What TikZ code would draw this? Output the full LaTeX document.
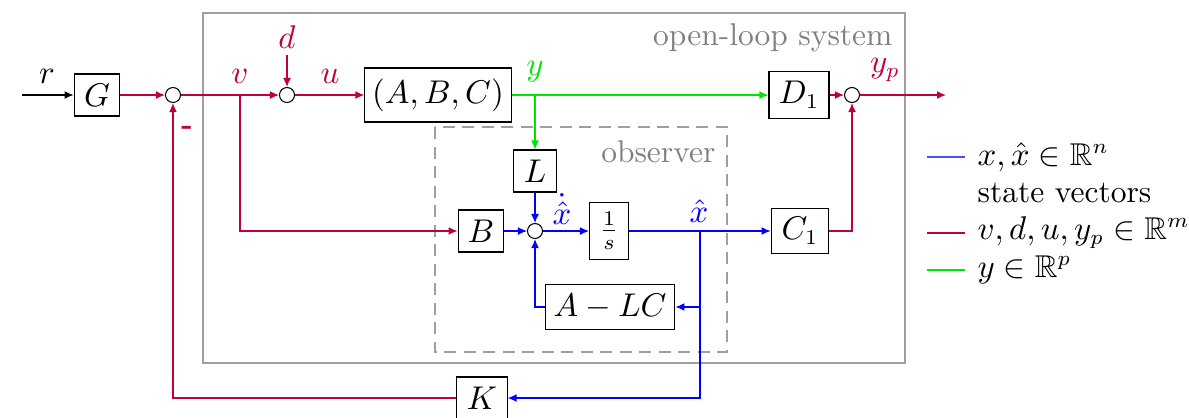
\documentclass[tikz,border=0pt]{standalone}
\usepackage{amssymb}
\usetikzlibrary{arrows.meta}
\definecolor{sig}{rgb}{0.75,0,0.25}
\definecolor{obs}{rgb}{0,0,1}
\definecolor{meas}{rgb}{0,0.9,0}
\tikzset{
  blk/.style={draw, line width=0.35pt, fill=white, inner sep=0pt},
  sumc/.style={draw, circle, line width=0.35pt, minimum size=5pt, inner sep=0pt, fill=white},
  arr/.style={line width=0.35pt, -{Latex[length=3pt,width=2.6pt]}},
  lbl/.style={inner sep=0pt},
  frame/.style={draw=gray!75, line width=0.35pt},
}
\begin{document}
\begin{tikzpicture}[x=0.3333pt,y=-0.3333pt, font=\fontsize{10.5}{12.6}\selectfont]
\useasboundingbox (0,0) rectangle (1189,417);
% frames
\draw[frame] (203,13) rectangle (905,363);
\draw[gray!75, line width=0.35pt, dash pattern=on 4pt off 2.5pt] (435,127) rectangle (727,352);
\node[lbl, anchor=east, text=gray] (olt) at (893,38) {open-loop system};
\node[lbl, anchor=east, text=gray] (obt) at (716,152) {observer};
% blocks
\node[blk, minimum width=15.3pt, minimum height=14pt] (G) at (97,95) {$G$};
\node[blk, minimum width=48.7pt, minimum height=18pt] (ABC) at (438,95) {$(A,B,C)$};
\node[blk, minimum width=20pt, minimum height=15.7pt] (D1) at (799,95) {$D_1$};
\node[blk, minimum width=14.3pt, minimum height=14pt] (L) at (535,171) {$L$};
\node[blk, minimum width=15.3pt, minimum height=14pt] (B) at (481,231) {$B$};
\node[blk, minimum width=13pt, minimum height=19.3pt] (I) at (609,231) {$\frac{1}{s}$};
\node[blk, minimum width=19.3pt, minimum height=14.7pt] (C1) at (800,231) {$C_1$};
\node[blk, minimum width=43.3pt, minimum height=15.3pt] (ALC) at (610,307) {$A-LC$};
\node[blk, minimum width=16.7pt, minimum height=14pt] (K) at (482,398) {$K$};
% sums
\node[sumc] (s1) at (173,95) {};
\node[sumc] (s2) at (287,95) {};
\node[sumc] (s3) at (852,95) {};
\node[sumc] (s4) at (535,231) {};
% coordinates
\coordinate (rin) at (22,95);
\coordinate (vb) at (240,95);
\coordinate (din) at (287,55);
\coordinate (yb) at (535,95);
\coordinate (out) at (946,95);
\coordinate (xb) at (700,231);
\coordinate (xa) at (700,307);
% labels
\node[lbl] (rl) at (47,76) {$r$};
\node[lbl, text=sig] (vl) at (240,76) {$v$};
\node[lbl, text=sig] (ul) at (330,76) {$u$};
\node[lbl, text=sig] (dl) at (287,37) {$d$};
\node[lbl, text=meas] (yl) at (535,72) {$y$};
\node[lbl, text=sig] (ypl) at (885,70) {$y_p$};
\node[lbl, text=obs] (xdl) at (562,209) {$\dot{\hat{x}}$};
\node[lbl, text=obs] (xhl) at (699,211) {$\hat{x}$};
\node[lbl, text=sig, font=\bfseries] (minus) at (187,130) {-};
% connectors
\draw[arr] (rin) -- (G.west);
\draw[arr, sig] (G.east) -- (s1.west);
\draw[arr, sig] (s1.east) -- (s2.west);
\draw[arr, sig] (vb) -- (240,231) -- (B.west);
\draw[arr, sig] (din) -- (s2.north);
\draw[arr, sig] (s2.east) -- (ABC.west);
\draw[arr, meas] (ABC.east) -- (D1.west);
\draw[arr, meas] (yb) -- (L.north);
\draw[arr, sig] (D1.east) -- (s3.west);
\draw[arr, sig] (s3.east) -- (out);
\draw[arr, obs] (L.south) -- (s4.north);
\draw[arr, obs] (B.east) -- (s4.west);
\draw[arr, obs] (s4.east) -- (I.west);
\draw[arr, obs] (I.east) -- (C1.west);
\draw[arr, sig] (C1.east) -| (s3.south);
\draw[arr, obs] (xb) |- (K.east);
\draw[arr, obs] (xa) -- (ALC.east);
\draw[arr, obs] (ALC.west) -| (s4.south);
\draw[arr, sig] (K.west) -| (s1.south);
% legend
\draw[obs!70, line width=0.35pt] (927,157) -- (965,157) node[lbl, anchor=west, text=black, xshift=4pt] (lg1) {$x,\hat{x}\in\mathbb{R}^n$};
\node[lbl, anchor=west] (lg2) at (977,193) {state vectors};
\draw[sig, line width=0.35pt] (927,233) -- (965,233) node[lbl, anchor=west, text=black, xshift=4pt] (lg3) {$v,d,u,y_p\in\mathbb{R}^m$};
\draw[meas, line width=0.35pt] (927,270) -- (965,270) node[lbl, anchor=west, text=black, xshift=4pt] (lg4) {$y\in\mathbb{R}^p$};
\end{tikzpicture}
\end{document}
